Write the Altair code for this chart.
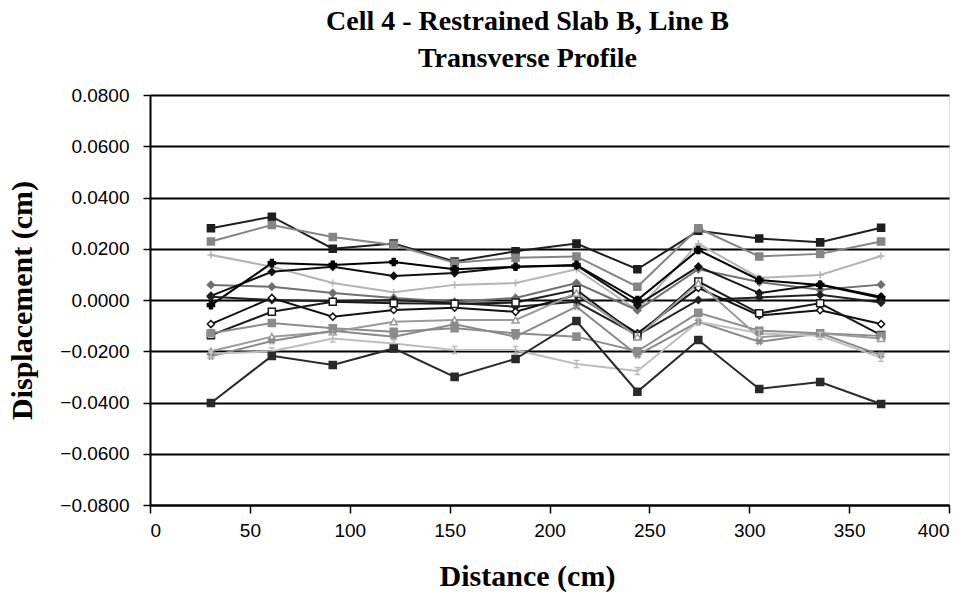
import altair as alt
import pandas as pd

# Distance along the transverse line (cm)
distance = [30.5, 61.0, 91.5, 122.0, 152.5, 183.0, 213.5, 244.0, 274.5, 305.0, 335.5, 366.0]

# Displacement readings (cm), one list per survey series
s01 = [0.0280, 0.0325, 0.0200, 0.0220, 0.0150, 0.0190, 0.0220, 0.0120, 0.0270, 0.0240, 0.0225, 0.0282]
s02 = [0.0228, 0.0293, 0.0246, 0.0215, 0.0145, 0.0165, 0.0170, 0.0052, 0.0280, 0.0170, 0.0180, 0.0228]
s03 = [0.0176, 0.0130, 0.0066, 0.0030, 0.0059, 0.0066, 0.0120, -0.0040, 0.0220, 0.0086, 0.0098, 0.0172]
s04 = [0.0059, 0.0052, 0.0027, 0.0008, -0.0007, 0.0008, 0.0066, -0.0040, 0.0120, 0.0070, 0.0040, 0.0060]
s05 = [0.0016, 0.0110, 0.0130, 0.0094, 0.0105, 0.0130, 0.0135, -0.0020, 0.0130, 0.0027, 0.0060, 0.0013]
s06 = [-0.0020, 0.0144, 0.0137, 0.0148, 0.0120, 0.0130, 0.0137, 0.0000, 0.0195, 0.0078, 0.0059, 0.0008]
s07 = [0.0013, 0.0000, -0.0005, 0.0000, -0.0012, -0.0026, -0.0007, -0.0137, 0.0000, 0.0010, 0.0020, -0.0010]
s08 = [-0.0094, 0.0008, -0.0065, -0.0039, -0.0030, -0.0046, 0.0020, -0.0130, 0.0047, -0.0060, -0.0040, -0.0094]
s09 = [-0.0137, -0.0046, -0.0007, -0.0013, -0.0015, -0.0010, 0.0040, -0.0140, 0.0072, -0.0052, -0.0013, -0.0137]
s10 = [-0.0130, -0.0090, -0.0110, -0.0124, -0.0110, -0.0130, -0.0143, -0.0200, -0.0050, -0.0120, -0.0130, -0.0140]
s11 = [-0.0200, -0.0143, -0.0124, -0.0085, -0.0078, -0.0078, 0.0027, -0.0143, 0.0066, -0.0145, -0.0130, -0.0150]
s12 = [-0.0220, -0.0160, -0.0120, -0.0143, -0.0095, -0.0143, -0.0026, -0.0215, -0.0085, -0.0163, -0.0130, -0.0215]
s13 = [-0.0210, -0.0200, -0.0150, -0.0170, -0.0195, -0.0195, -0.0250, -0.0277, -0.0085, -0.0130, -0.0140, -0.0225]
s14 = [-0.0402, -0.0218, -0.0254, -0.0189, -0.0300, -0.0230, -0.0082, -0.0358, -0.0156, -0.0347, -0.0320, -0.0406]

series_values = [s01, s02, s03, s04, s05, s06, s07, s08, s09, s10, s11, s12, s13, s14]
series_names = ["Series %d" % (i + 1) for i in range(len(series_values))]

y_ticks = [-0.08, -0.06, -0.04, -0.02, 0.0, 0.02, 0.04, 0.06, 0.08]
x_ticks = [0, 50, 100, 150, 200, 250, 300, 350, 400]

# styling per series
line_colors = ["#1e1e1e", "#858585", "#b4b4b4", "#707070", "#111111", "#000000", "#222222",
               "#111111", "#1a1a1a", "#8c8c8c", "#9a9a9a", "#8a8a8a", "#bdbdbd", "#2a2a2a"]
fill_colors = ["#1e1e1e", "#858585", "#b4b4b4", "#707070", "#111111", "#000000", "#222222",
               "#ffffff", "#ffffff", "#8c8c8c", "#ffffff", "#8a8a8a", "#bdbdbd", "#2a2a2a"]
plus_path = "M-1,0H1M0,-1V1"
hash_path = "M-1,-0.4H1M-1,0.4H1M-0.4,-1V1M0.4,-1V1"
ibar_path = "M-0.8,-1H0.8M0,-1V1M-0.8,1H0.8"
shapes = ["square", "square", plus_path, "diamond", "diamond", "cross", "diamond",
          "diamond", "square", "square", "triangle-up", hash_path, ibar_path, "square"]

rows = []
for name, vals in zip(series_names, series_values):
    for d, v in zip(distance, vals):
        rows.append({"series": name, "distance": d, "disp": v})
df = pd.DataFrame(rows)

x_enc = alt.X("distance:Q", scale=alt.Scale(domain=[0, 400], nice=False),
              axis=alt.Axis(values=x_ticks, title="Distance (cm)", grid=False,
                            labelFont="Liberation Sans", labelFontSize=19, labelColor="black",
                            labelPadding=8, tickSize=8, tickColor="black", tickWidth=1.5,
                            domainColor="black", domainWidth=2,
                            titleFont="Liberation Serif", titleFontSize=30, titleFontWeight="bold",
                            titleColor="black", titlePadding=21, titleX=377))
y_enc = alt.Y("disp:Q", scale=alt.Scale(domain=[-0.08, 0.08], nice=False),
              axis=alt.Axis(values=y_ticks, format=".4f", title="Displacement (cm)",
                            grid=True, gridColor="black", gridWidth=2,
                            labelFont="Liberation Sans", labelFontSize=19, labelColor="black",
                            labelPadding=14, tickSize=7, tickColor="black", tickWidth=1.5,
                            domainColor="black", domainWidth=2,
                            titleFont="Liberation Serif", titleFontSize=30, titleFontWeight="bold",
                            titleColor="black", titlePadding=22))

base = alt.Chart(df)

lines = base.mark_line(strokeWidth=2).encode(
    x=x_enc, y=y_enc,
    color=alt.Color("series:N", scale=alt.Scale(domain=series_names, range=line_colors), legend=None),
    detail="series:N",
)

points = base.mark_point(filled=True, size=50, strokeWidth=1.5, opacity=1).encode(
    x=x_enc, y=y_enc,
    shape=alt.Shape("series:N", scale=alt.Scale(domain=series_names, range=shapes), legend=None),
    fill=alt.Fill("series:N", scale=alt.Scale(domain=series_names, range=fill_colors), legend=None),
    stroke=alt.Stroke("series:N", scale=alt.Scale(domain=series_names, range=line_colors), legend=None),
)

chart = alt.layer(lines, points).resolve_scale(color="independent").properties(
    width=799,
    height=410,
    title=alt.TitleParams(
        text=["Cell 4 - Restrained Slab B, Line B", "Transverse Profile"],
        font="Liberation Serif", fontSize=28, fontWeight="bold", color="black",
        lineHeight=37, anchor="middle", dx=-22, offset=13,
    ),
    autosize=alt.AutoSizeParams(type="none"),
    padding={"left": 150, "top": 95, "right": 18, "bottom": 91},
).configure_view(stroke="black", strokeWidth=2).configure(background="white")

chart.save("out.html", embed_options={"renderer": "svg", "actions": False})
